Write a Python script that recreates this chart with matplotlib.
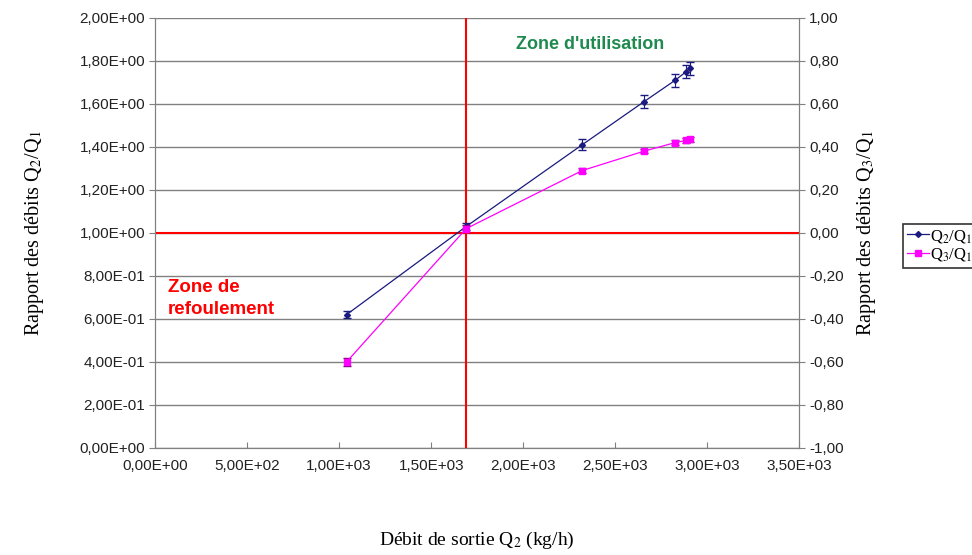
import numpy as np
import matplotlib.pyplot as plt
from matplotlib.lines import Line2D
from matplotlib.ticker import FuncFormatter, MultipleLocator

# data
debit = [1040, 1690, 2320, 2655, 2825, 2885, 2905]
q2_q1 = [0.62, 1.03, 1.41, 1.61, 1.71, 1.75, 1.765]
q2_err = [0.015, 0.015, 0.025, 0.03, 0.03, 0.03, 0.03]
q3_q1 = [-0.60, 0.02, 0.29, 0.38, 0.42, 0.43, 0.435]
q3_err = [0.02, 0.015, 0.01, 0.01, 0.01, 0.01, 0.01]
debit_limite = 1690

plt.rcParams['font.family'] = ['Liberation Sans', 'DejaVu Sans']
plt.rcParams['mathtext.fontset'] = 'stix'

fig = plt.figure(figsize=(9.72, 5.55), dpi=100)
ax = fig.add_axes([0.1595, 0.1928, 0.663, 0.775])
ax2 = ax.twinx()

grey = '#808080'
blue = '#1a1a80'
pink = '#ff00ff'
ax.set_xlim(0, 3500)
ax.set_ylim(0, 2.0)
ax2.set_ylim(-1.0, 1.0)
ax.yaxis.set_major_locator(MultipleLocator(0.2))
ax2.yaxis.set_major_locator(MultipleLocator(0.2))
ax.xaxis.set_major_locator(MultipleLocator(500))
ax.grid(axis='y', color=grey, lw=1.0)
ax.set_axisbelow(True)


def sci_fr(v, pos):
    s = '%.2E' % v
    return s.replace('.', ',')


ax.xaxis.set_major_formatter(FuncFormatter(sci_fr))
ax.yaxis.set_major_formatter(FuncFormatter(sci_fr))
ax2.yaxis.set_major_formatter(FuncFormatter(lambda v, p: ('%.2f' % v).replace('.', ',')))

for a in (ax, ax2):
    for s in a.spines.values():
        s.set_color(grey)
    a.spines['top'].set_visible(False)
ax.tick_params(axis='y', direction='out', length=4, color=grey, labelsize=11, pad=3,
               labelcolor='#222222')
ax.tick_params(axis='x', direction='in', length=4, color=grey, labelsize=11, pad=8,
               labelcolor='#222222')
ax2.tick_params(axis='y', direction='out', length=4, color=grey, labelsize=11, pad=3,
                labelcolor='#222222')

ax.axhline(1.0, color='red', lw=1.5, zorder=3)
ax.axvline(debit_limite, color='red', lw=1.5, zorder=3)

ax.errorbar(debit, q2_q1, yerr=q2_err, color=blue, marker='D', ms=3,
            lw=0.9, capsize=3, elinewidth=0.8, zorder=4)
ax2.errorbar(debit, q3_q1, yerr=q3_err, color=pink, marker='s', ms=4,
             lw=0.9, capsize=3, elinewidth=0.8, ecolor='#800080', zorder=4)

ax.text(2365, 1.875, "Zone d'utilisation", color='#1f8a50', fontsize=13,
        fontweight='bold', ha='center', va='center')
ax.text(70, 0.785, 'Zone de\nrefoulement', color='red', fontsize=13.5,
        fontweight='bold', ha='left', va='top', linespacing=1.4)

serif = ['Liberation Serif', 'DejaVu Serif']
ax.set_ylabel('Rapport des débits Q$_2$/Q$_1$', family=serif, fontsize=14.5, labelpad=24)
ax2.set_ylabel('Rapport des débits Q$_3$/Q$_1$', family=serif, fontsize=14.5, labelpad=8)
ax.set_xlabel('Débit de sortie Q$_2$ (kg/h)', family=serif, fontsize=14, labelpad=41)

handles = [Line2D([], [], color=blue, marker='D', ms=3, lw=0.9),
           Line2D([], [], color=pink, marker='s', ms=4, lw=0.9)]
leg = fig.legend(handles, ['Q$_2$/Q$_1$', 'Q$_3$/Q$_1$'], loc='upper left',
                 bbox_to_anchor=(0.929, 0.597), prop={'family': serif, 'size': 12},
                 frameon=True, fancybox=False, edgecolor='black', handlelength=1.3,
                 handletextpad=0.1, borderpad=0.25, labelspacing=0.1, borderaxespad=0)
leg.get_frame().set_linewidth(1.2)

fig.savefig('out.png', dpi=100)
